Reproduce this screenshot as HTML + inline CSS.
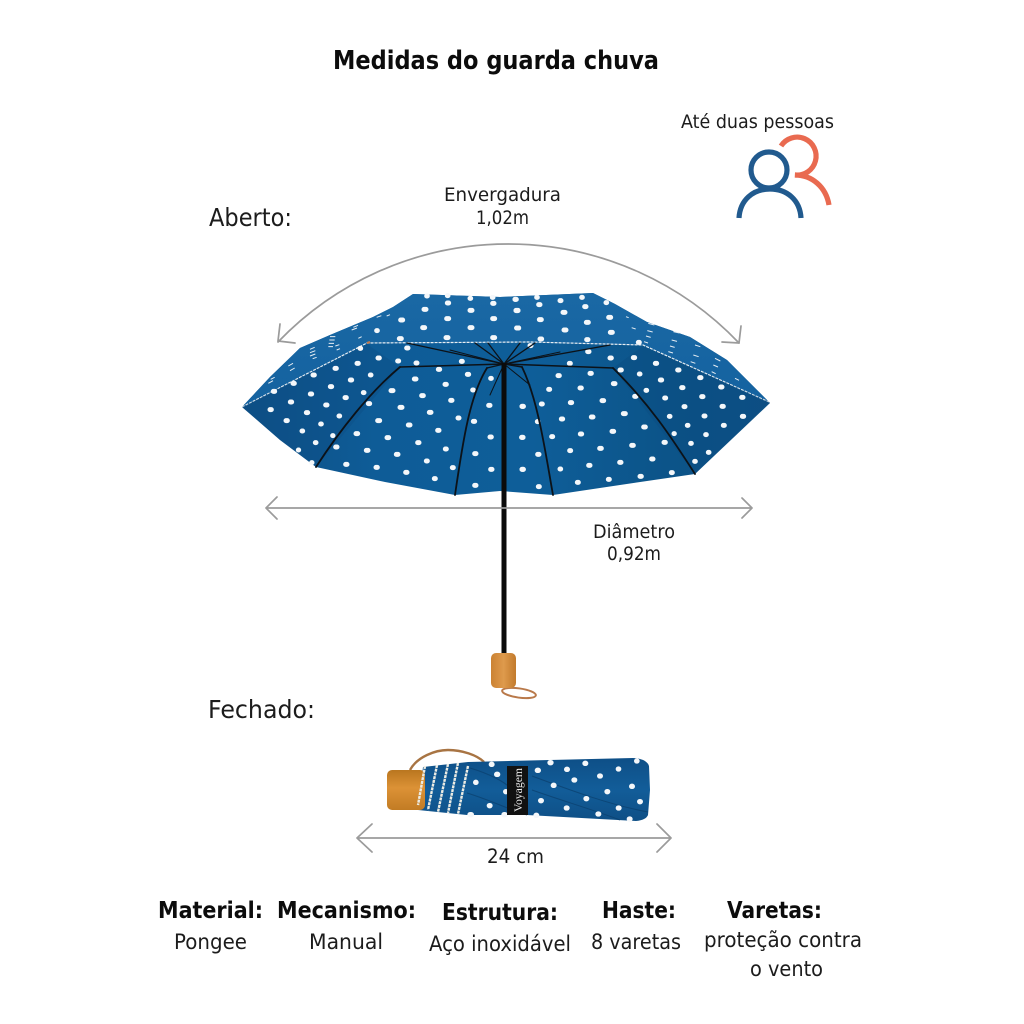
<!DOCTYPE html>
<html><head><meta charset="utf-8"><style>html,body{margin:0;padding:0;background:#fff}svg{display:block}text{font-family:"DejaVu Sans",sans-serif;fill:#1c1c1c}.b{font-weight:bold;fill:#0c0c0c}</style></head><body>
<svg width="1024" height="1024" viewBox="0 0 1024 1024" xmlns="http://www.w3.org/2000/svg">
<defs>
<linearGradient id="inner" x1="0" x2="1" y1="0" y2="0"><stop offset="0" stop-color="#0e4f85"/><stop offset=".25" stop-color="#0e5c97"/><stop offset=".55" stop-color="#0e5e99"/><stop offset=".8" stop-color="#0c5489"/><stop offset="1" stop-color="#0f5186"/></linearGradient>
<linearGradient id="outer" x1="0" x2="0" y1="0" y2="1"><stop offset="0" stop-color="#1a68a4"/><stop offset="1" stop-color="#1462a0"/></linearGradient>
<linearGradient id="wood" x1="0" x2="0" y1="0" y2="1"><stop offset="0" stop-color="#b9761f"/><stop offset=".45" stop-color="#dc9236"/><stop offset="1" stop-color="#c27c24"/></linearGradient>
<linearGradient id="wood2" x1="0" x2="1" y1="0" y2="0"><stop offset="0" stop-color="#cb8233"/><stop offset=".5" stop-color="#de9a4c"/><stop offset="1" stop-color="#c27a2c"/></linearGradient>
<linearGradient id="body" x1="0" x2="0" y1="0" y2="1"><stop offset="0" stop-color="#0e4f87"/><stop offset=".5" stop-color="#125d99"/><stop offset="1" stop-color="#0e4f86"/></linearGradient>
</defs>

<text class="b" x="333" y="69" font-size="26" textLength="326" lengthAdjust="spacingAndGlyphs">Medidas do guarda chuva</text>
<text x="681" y="128" font-size="19" textLength="153" lengthAdjust="spacingAndGlyphs">Até duas pessoas</text>
<text x="444" y="201" font-size="19" textLength="117" lengthAdjust="spacingAndGlyphs">Envergadura</text>
<text x="476" y="224" font-size="19" textLength="53" lengthAdjust="spacingAndGlyphs">1,02m</text>
<text x="209" y="226" font-size="24.5" textLength="83" lengthAdjust="spacingAndGlyphs">Aberto:</text>
<text x="208" y="718" font-size="24.5" textLength="107" lengthAdjust="spacingAndGlyphs">Fechado:</text>
<text x="593" y="538" font-size="19" textLength="82" lengthAdjust="spacingAndGlyphs">Diâmetro</text>
<text x="607" y="560" font-size="19" textLength="54" lengthAdjust="spacingAndGlyphs">0,92m</text>
<text x="487" y="863" font-size="19.5" textLength="57" lengthAdjust="spacingAndGlyphs">24 cm</text>

<text class="b" x="158" y="918" font-size="23" textLength="105" lengthAdjust="spacingAndGlyphs">Material:</text>
<text x="174" y="949" font-size="21.5" textLength="73" lengthAdjust="spacingAndGlyphs">Pongee</text>
<text class="b" x="277" y="918" font-size="23" textLength="139" lengthAdjust="spacingAndGlyphs">Mecanismo:</text>
<text x="309" y="949" font-size="21.5" textLength="74" lengthAdjust="spacingAndGlyphs">Manual</text>
<text class="b" x="442" y="920" font-size="23" textLength="116" lengthAdjust="spacingAndGlyphs">Estrutura:</text>
<text x="429" y="951" font-size="21.5" textLength="142" lengthAdjust="spacingAndGlyphs">Aço inoxidável</text>
<text class="b" x="602" y="918" font-size="23" textLength="74" lengthAdjust="spacingAndGlyphs">Haste:</text>
<text x="591" y="949" font-size="21.5" textLength="90" lengthAdjust="spacingAndGlyphs">8 varetas</text>
<text class="b" x="727" y="918" font-size="23" textLength="95" lengthAdjust="spacingAndGlyphs">Varetas:</text>
<text x="704" y="947" font-size="21.5" textLength="158" lengthAdjust="spacingAndGlyphs">proteção contra</text>
<text x="750" y="976" font-size="21.5" textLength="73" lengthAdjust="spacingAndGlyphs">o vento</text>

<!-- people icon -->
<g fill="none" stroke-width="5.2">
<path d="M781 146A19 19 0 1 1 795 175C812 175 826 187 829 205" stroke="#e96a50"/>
<circle cx="769" cy="170" r="18" stroke="#215a8e"/>
<path d="M739 218C740 200 753 189 770 189C787 189 800 200 801 218" stroke="#215a8e"/>
</g>

<!-- open umbrella canopy -->
<path d="M242 407L270 377L300 348L330 335L373 317L393 307L413 294L500 297L593 293L615 304L647 322L690 337L727 360L770 403L695 474L620 485L553 495L500 491L455 495L385 482L316 467L280 440Z" fill="url(#inner)"/>
<path d="M242 407L270 377L300 348L330 335L373 317L393 307L413 294L500 297L593 293L615 304L647 322L690 337L727 360L769 402L643 345L530 342L367 343Z" fill="url(#outer)"/>
<path d="M242 407L367 343L530 342L643 345L769 402" fill="none" stroke="#e8eef3" stroke-width="1.2" stroke-dasharray="3 1"/>
<path d="M367 343L370 342" stroke="#c8794a" stroke-width="2"/>
<!-- darker folds -->
<path d="M242 407L367 344L400 367L316 467L280 440Z" fill="#0c4e84" opacity=".4"/>
<path d="M769 402L643 346L613 368L695 474Z" fill="#0a4b80" opacity=".4"/>

<!-- dots -->
<g transform="translate(230 280) scale(.33333)">
<path fill="none" stroke="#f4f7fa" stroke-width="15" stroke-linecap="round" d="M590 48h2M652 47h2M720 55h2M787 52h2M855 58h2M652 69h4M788 70h4M582 88h6M720 91h6M858 92h6M512 120h6M650 116h6M788 116h6M578 143h6M720 143h6M860 144h6M440 152h2M508 176h6M648 173h6M788 173h6M390 205h2M444 234h4M381 250h4M315 265h4M249 285h4M189 310h4M130 334h4M120 389h4M181 366h4M241 342h4M301 320h4M361 300h4M421 285h2M400 338h2M345 353h4M287 375h4M229 398h4M168 422h4M327 408h2M272 432h2M216 453h2M308 467h1M256 488h2M317 501h4M205 510h1M245 548h1M347 553h4M415 371h4M483 332h6M553 297h5M625 268h4M503 243h3M558 249h3M530 204h4M510 382h6M443 422h6M378 461h5M409 511h5M438 562h4M471 473h5M499 523h5M527 577h4M535 435h5M598 397h5M575 347h5M645 313h4M712 283h4M662 361h4M728 330h2M684 414h3M623 451h4M563 488h4M589 543h3M613 596h3M646 507h3M667 563h3M730 424h4M776 376h4M876 379h4M780 471h4M875 472h4M734 521h4M782 568h4M876 568h4M734 616h4M694 244h3M782 295h2"/>
<path fill="none" stroke="#e6edf3" stroke-width="3" d="M300 170h16M298 180h16M296 190h16M295 200h14M370 142l14-6M365 150l16-6M385 175l10-5M316 198l12-4M320 210l10-4M240 208l14-6M240 218l16-6M240 228l16-6M248 236l12-4M175 258l14-8M180 272l14-8M115 310l14-8M122 298l12-6M440 112l14-5M470 108l10-4"/>
</g>
<g transform="translate(500 280) scale(.33333)">
<path fill="none" stroke="#f4f7fa" stroke-width="15" stroke-linecap="round" d="M45 58h4M110 52h2M180 62h3M245 52h2M116 74h4M254 80h4M318 68h2M48 91h6M189 97h6M118 119h6M259 127h6M326 112h6M50 144h6M192 150h6M331 157h6M120 177h5M260 179h4M415 187h3M90 197h3M263 215h4M330 234h4M400 233h4M466 250h4M533 270h4M599 293h4M662 321h4M725 352h4M208 250h3M270 280h4M360 270h4M418 282h2M481 300h4M545 323h4M605 350h4M666 379h4M727 409h4M174 287h4M240 324h4M340 311h5M438 331h2M494 354h3M552 380h3M612 408h3M670 436h3M146 328h3M211 368h4M306 362h5M404 349h4M508 409h2M562 436h2M617 464h2M625 517h2M66 379h4M124 372h3M184 417h4M274 411h5M370 401h6M431 441h5M522 461h1M572 490h2M112 425h2M65 472h4M155 470h3M241 462h4M336 454h5M395 496h5M492 487h4M584 544h2M113 523h4M209 512h3M299 505h5M455 537h4M66 568h4M180 567h2M266 556h4M359 547h4M514 578h3M420 589h4M325 598h3M232 607h3M115 620h3"/>
<path fill="none" stroke="#e6edf3" stroke-width="3" d="M445 130l18 5M442 152l16 4M438 168l14 4M432 185l12 4M520 155l18 4M515 180l16 4M510 198l14 4M505 215l14 4M585 195l16 5M580 225l16 5M572 245l14 5M645 235l16 8M640 255l14 6M635 275l12 6M705 295l12 6M378 110l8 3M395 143l12 4"/>
</g>

<!-- ribs -->
<g fill="none" stroke="#0c1218" stroke-linecap="round">
<path d="M400 367C370 392 340 430 316 467" stroke-width="1.8"/>
<path d="M400 367L504 364" stroke-width="1.5"/>
<path d="M487 368C470 395 463 440 455 495" stroke-width="1.8"/>
<path d="M504 364L487 368" stroke-width="1.4"/>
<path d="M613 368C650 405 670 435 695 474" stroke-width="1.8"/>
<path d="M504 364L613 368" stroke-width="1.5"/>
<path d="M522 367C538 400 545 450 553 495" stroke-width="1.8"/>
<path d="M504 364L522 367" stroke-width="1.4"/>
<path d="M407 343L504 364M610 345L504 364M475 343L504 364M488 343L504 364M520 343L504 364M535 343L504 364" stroke-width="1.3"/>
<path d="M504 364L560 352M504 364L450 350M504 364L490 395M504 364L530 385" stroke-width="1"/>
</g>
<path d="M504 363V655" stroke="#0b0b0b" stroke-width="5"/>

<!-- handle -->
<ellipse cx="519" cy="693" rx="17" ry="4.6" transform="rotate(8 519 693)" fill="none" stroke="#b9794a" stroke-width="2"/>
<rect x="491" y="653" width="25" height="35" rx="5" fill="url(#wood2)"/>

<!-- gray arrows -->
<g fill="none" stroke="#9b9b9b" stroke-width="1.7" stroke-linejoin="round" stroke-linecap="round">
<path d="M278 342A319 319 0 0 1 739 343"/>
<path d="M280 324L278 341L295 343M741 326L739 343L722 342"/>
<path d="M266 508H752M277 497L266 508L277 519M742 498L752 508L742 518"/>
<path d="M357 838H671M372 824L357 838L372 852M657 824L671 838L657 852"/>
</g>

<!-- closed umbrella -->
<path d="M410 770C417 757 435 750 448 750C462 750 477 755 484 762" fill="none" stroke="#a87443" stroke-width="2.4"/>
<path d="M423 767L468 762L633 758Q647 759 649 766L650 790L648 815Q646 820 636 821L527 815L467 815L418 810Z" fill="url(#body)"/>
<rect x="387" y="770" width="38" height="40" rx="5" fill="url(#wood)"/>
<g fill="none" stroke="#ecece4" stroke-width="2.4" stroke-dasharray="3 .8">
<path d="M425 766L418 805M437 765L428 810M448 764L438 812M458 763L448 813M468 766L458 814"/>
</g>
<path d="M467 793C490 800 500 806 527 815M532 776C570 790 610 805 648 812M532 790C560 800 600 812 620 820M470 768C490 774 505 782 510 788" fill="none" stroke="#0a3f6c" stroke-width="1" opacity=".7"/>
<g transform="translate(350 740) scale(.33333)">
<path fill="none" stroke="#f4f7fa" stroke-width="16" stroke-linecap="round" d="M377 127h1M467 155h1M418 197h2M424 73h2M440 103h3M360 224h4M462 224h3M562 91h3M600 68h3M650 88h2M705 70h2M860 63h1M805 87h1M749 108h2M610 136h2M672 120h2M845 139h2M771 155h2M708 176h2M572 182h2M649 204h2M805 204h2M869 185h2M744 222h2M838 237h2M558 226h2"/>
</g>
<rect x="507" y="766" width="21" height="49" fill="#111"/>
<text transform="translate(522 812) rotate(-90)" font-size="12" style="font-family:'Liberation Serif',serif;fill:#e8e8e8" textLength="44" lengthAdjust="spacingAndGlyphs">Voyagem</text>
</svg>
</body></html>
